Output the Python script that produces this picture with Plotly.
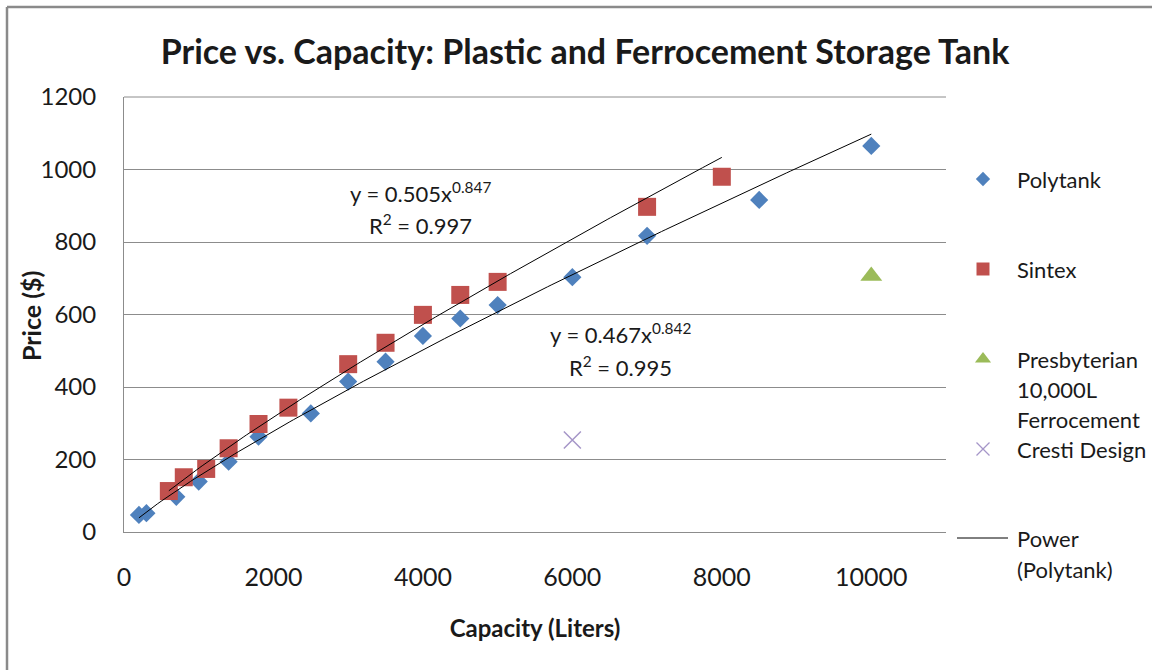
import numpy as np
import plotly.graph_objects as go

# ---------------- data ----------------
poly_x = [200, 300, 700, 1000, 1400, 1800, 2500, 3000, 3500, 4000, 4500, 5000, 6000, 7000, 8500, 10000]
poly_y = [47, 52, 97, 139, 194, 263, 327, 415, 470, 541, 589, 626, 703, 817, 916, 1065]

sintex_x = [600, 800, 1100, 1400, 1800, 2200, 3000, 3500, 4000, 4500, 5000, 7000, 8000]
sintex_y = [113, 151, 174, 231, 298, 343, 463, 522, 599, 654, 690, 897, 980]

presb_x = [10000]
presb_y = [706]

cresti_x = [6000]
cresti_y = [254]

x_ticks = [0, 2000, 4000, 6000, 8000, 10000]
x_tick_labels = ["0", "2000", "4000", "6000", "8000", "10000"]
y_ticks = [0, 200, 400, 600, 800, 1000, 1200]
y_tick_labels = ["0", "200", "400", "600", "800", "1000", "1200"]

eq_sintex = ["y = 0.505x<sup>0.847</sup>", "R<sup>2</sup> = 0.997"]
eq_poly = ["y = 0.467x<sup>0.842</sup>", "R<sup>2</sup> = 0.995"]

legend_names = ["Polytank", "Sintex", ["Presbyterian", "10,000L", "Ferrocement"],
                "Cresti Design", ["Power", "(Polytank)"]]

# ---------------- layout constants ----------------
W, H = 1152, 670
L, R, T, B = 124, 946, 97, 532
FONT = "Lato, 'Open Sans', sans-serif"
GRID = "#8c8c8c"
TXT = "#1a1a1a"
BLUE, RED, GREEN, PURPLE = "#4F81BD", "#C0504D", "#9BBB59", "#a596c8"


def px(x):
    return x / W


def py(y):
    return 1 - y / H


def power_fit(xs, ys):
    b, ln_a = np.polyfit(np.log(xs), np.log(ys), 1)
    return np.exp(ln_a), b


fig = go.Figure()

fig.add_trace(go.Scatter(x=poly_x, y=poly_y, mode="markers", name="Polytank",
                         marker=dict(symbol="diamond", size=14, color=BLUE, opacity=1)))
fig.add_trace(go.Scatter(x=sintex_x, y=sintex_y, mode="markers", name="Sintex",
                         marker=dict(symbol="square", size=18, color=RED, opacity=1)))
fig.add_trace(go.Scatter(x=presb_x, y=presb_y, mode="markers", name="Presbyterian 10,000L Ferrocement",
                         marker=dict(symbol="triangle-up", size=19, color=GREEN, opacity=1)))
fig.add_trace(go.Scatter(x=cresti_x, y=cresti_y, mode="markers", name="Cresti Design",
                         marker=dict(symbol="x-thin", size=17, color=PURPLE, opacity=1,
                                     line=dict(color=PURPLE, width=1.5))))

# power trendlines (fitted from the data, as Excel does)
for xs, ys in ((sintex_x, sintex_y), (poly_x, poly_y)):
    a, b = power_fit(xs, ys)
    xx = np.linspace(min(xs), max(xs), 200)
    fig.add_trace(go.Scatter(x=xx, y=a * xx ** b, mode="lines",
                             line=dict(color="black", width=1), hoverinfo="skip"))

# legend keys on a pixel-space overlay axis
key_specs = [("diamond", 11, BLUE, 0, 179), ("square", 13, RED, 0, 269),
             ("triangle-up", 14, GREEN, 0, 359), ("x-thin", 13, PURPLE, 1.3, 449)]
for sym, sz, col, lw, yy in key_specs:
    fig.add_trace(go.Scatter(
        x=[983], y=[yy], mode="markers", xaxis="x2", yaxis="y2", hoverinfo="skip",
        opacity=1,
        marker=dict(symbol=sym, size=sz, color=col, opacity=1, line=dict(color=col, width=lw))))
fig.add_trace(go.Scatter(x=[957, 1008], y=[538, 538], mode="lines", xaxis="x2", yaxis="y2",
                         hoverinfo="skip", line=dict(color="black", width=1)))

annotations = []
# legend text
leg_lines = [(legend_names[0], 179), (legend_names[1], 269),
             (legend_names[2][0], 359), (legend_names[2][1], 389), (legend_names[2][2], 419),
             (legend_names[3], 449), (legend_names[4][0], 538), (legend_names[4][1], 569)]
for txt, yy in leg_lines:
    annotations.append(dict(text=txt, x=px(1015), y=py(yy), xref="paper", yref="paper",
                            xanchor="left", yanchor="middle", showarrow=False,
                            font=dict(family=FONT, size=22, color=TXT)))

# trendline equations
for lines, cx, ys in ((eq_sintex, 420, (192, 224)), (eq_poly, 620, (334, 366))):
    for t, yy in zip(lines, ys):
        annotations.append(dict(text=t, x=px(cx), y=py(yy), xref="paper", yref="paper",
                                xanchor="center", yanchor="middle", showarrow=False,
                                font=dict(family=FONT, size=22, color=TXT)))

# y axis title
annotations.append(dict(text="<b>Price ($)</b>", x=px(31), y=py(316), xref="paper",
                        yref="paper", xanchor="center", yanchor="middle", showarrow=False,
                        textangle=-90, font=dict(family=FONT, size=25, color=TXT)))

shapes = [
    dict(type="line", xref="paper", yref="paper", x0=px(7), x1=1, y0=py(7), y1=py(7),
         line=dict(color="#8a8a8a", width=2.5)),
    dict(type="line", xref="paper", yref="paper", x0=px(7), x1=px(7), y0=py(7), y1=0,
         line=dict(color="#8a8a8a", width=2.5)),
]

fig.update_layout(
    width=W, height=H,
    margin=dict(l=0, r=0, t=0, b=0),
    paper_bgcolor="white", plot_bgcolor="rgba(0,0,0,0)",
    showlegend=False,
    title=dict(text="<b>Price vs. Capacity: Plastic and Ferrocement Storage Tank</b>",
               x=px(585), y=py(52), xanchor="center", yanchor="middle",
               font=dict(family=FONT, size=34, color=TXT)),
    xaxis=dict(domain=[px(L), px(R)], range=[0, 11000], tickvals=x_ticks, ticktext=x_tick_labels,
               showgrid=False, zeroline=False, showline=True, linecolor=GRID, linewidth=1,
               ticks="", ticklabelstandoff=23, automargin=False,
               tickfont=dict(family=FONT, size=25, color=TXT),
               title=dict(text="<b>Capacity (Liters)</b>", standoff=30,
                          font=dict(family=FONT, size=24, color=TXT))),
    yaxis=dict(domain=[py(B), py(T)], range=[0, 1200], tickvals=y_ticks, ticktext=y_tick_labels,
               showgrid=True, gridcolor=GRID, gridwidth=1, zeroline=False,
               showline=True, linecolor=GRID, linewidth=1, mirror=False,
               ticks="", ticklabelstandoff=22, automargin=False,
               tickfont=dict(family=FONT, size=24, color=TXT)),
    xaxis2=dict(domain=[0, 1], range=[0, W], anchor="y2", visible=False),
    yaxis2=dict(domain=[0, 1], range=[H, 0], anchor="x2", visible=False),
    annotations=annotations,
    shapes=shapes,
)
# top border of plot area
fig.add_shape(type="line", xref="x domain", yref="y domain", x0=0, x1=1, y0=1, y1=1,
              line=dict(color=GRID, width=1))

fig.write_html("out.html")
